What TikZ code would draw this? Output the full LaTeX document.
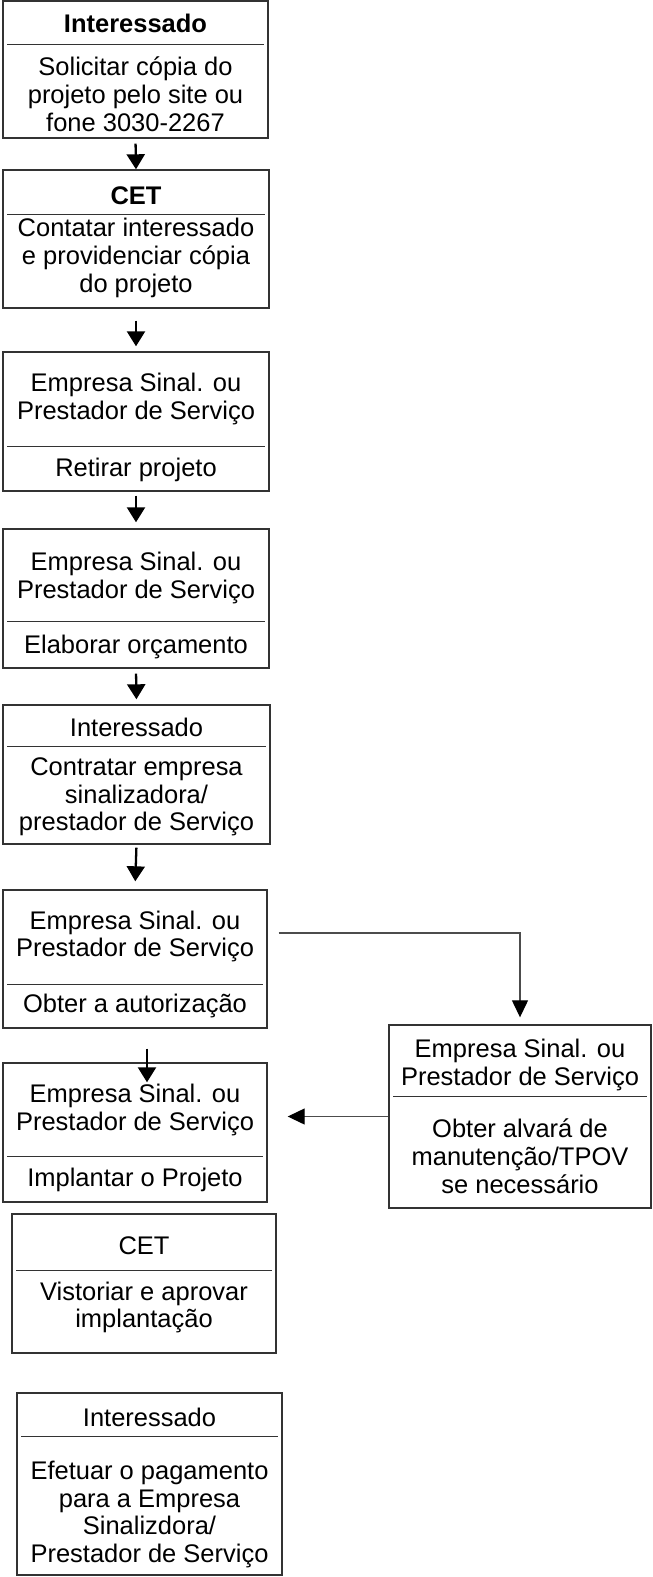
\documentclass[tikz,border=0pt]{standalone}
\usepackage{fontspec}
\setmainfont{Liberation Sans}
\usetikzlibrary{arrows.meta}

\begin{document}
\begin{tikzpicture}[
	card/.style={draw=black!80, line width=0.8pt, inner sep=0pt},
	divider/.style={draw=black!80, line width=0.7pt},
	txt/.style={align=center, inner sep=0pt, font=\fontsize{14.5}{15.8}\selectfont},
	arr/.style={line width=1.3pt, -{Triangle[length=0.3cm, width=0.36cm]}},
	sidearr/.style={draw=black!70, line width=0.7pt, -{Triangle[length=0.34cm, width=0.32cm, color=black]}}]
	\useasboundingbox (0,0) rectangle (13.06,-31.54);
	
	%draw the boxes
	\node[card, minimum width=5.30cm, minimum height=2.74cm] (b1) at (2.71,-1.39) {};
	\node[card, minimum width=5.32cm, minimum height=2.76cm] (b2) at (2.72,-4.78) {};
	\node[card, minimum width=5.32cm, minimum height=2.78cm] (b3) at (2.72,-8.43) {};
	\node[card, minimum width=5.32cm, minimum height=2.78cm] (b4) at (2.72,-11.97) {};
	\node[card, minimum width=5.34cm, minimum height=2.78cm] (b5) at (2.73,-15.49) {};
	\node[card, minimum width=5.28cm, minimum height=2.76cm] (b6) at (2.70,-19.18) {};
	\node[card, minimum width=5.24cm, minimum height=3.66cm] (bR) at (10.40,-22.33) {};
	\node[card, minimum width=5.28cm, minimum height=2.78cm] (b7) at (2.70,-22.65) {};
	\node[card, minimum width=5.28cm, minimum height=2.78cm] (b8) at (2.88,-25.67) {};
	\node[card, minimum width=5.30cm, minimum height=3.64cm] (b9) at (2.99,-29.68) {};
	
	%lines between who and what
	\foreach \b / \s in {b1/0.88,b2/0.90,b3/1.90,b4/1.86,b5/0.84,b6/1.90,bR/1.44,b7/1.88,b8/1.14,b9/0.88}
	\draw[divider] ([xshift=1mm,yshift=-\s cm]\b.north west) -- ([xshift=-1mm,yshift=-\s cm]\b.north east);
	
	%box texts
	\node[txt] (b1t) at (2.71,-0.46) {\bfseries Interessado};
	\node[txt] (b1b) at (2.71,-1.89) {Solicitar cópia do\\projeto pelo site ou\\fone 3030-2267};
	\node[txt] (b2t) at (2.72,-3.92) {\bfseries CET};
	\node[txt] (b2b) at (2.72,-5.16) {Contatar interessado\\e providenciar cópia\\do projeto};
	\node[txt] (b3t) at (2.72,-7.98) {Empresa Sinal. ou\\Prestador de Serviço};
	\node[txt] (b3b) at (2.72,-9.40) {Retirar projeto};
	\node[txt] (b4t) at (2.72,-11.56) {Empresa Sinal. ou\\Prestador de Serviço};
	\node[txt] (b4b) at (2.72,-12.94) {Elaborar orçamento};
	\node[txt] (b5t) at (2.73,-14.55) {Interessado};
	\node[txt] (b5b) at (2.73,-15.94) {Contratar empresa\\sinalizadora/\\prestador de Serviço};
	\node[txt] (b6t) at (2.70,-18.73) {Empresa Sinal. ou\\Prestador de Serviço};
	\node[txt] (b6b) at (2.70,-20.12) {Obter a autorização};
	\node[txt] (bRt) at (10.40,-21.30) {Empresa Sinal. ou\\Prestador de Serviço};
	\node[txt] (bRb) at (10.40,-23.12) {Obter alvará de\\manutenção/TPOV\\se necessário};
	\node[txt] (b7t) at (2.70,-22.20) {Empresa Sinal. ou\\Prestador de Serviço};
	\node[txt] (b7b) at (2.70,-23.60) {Implantar o Projeto};
	\node[txt] (b8t) at (2.88,-24.92) {CET};
	\node[txt] (b8b) at (2.88,-26.15) {Vistoriar e aprovar\\implantação};
	\node[txt] (b9t) at (2.99,-28.34) {Interessado};
	\node[txt] (b9b) at (2.99,-30.29) {Efetuar o pagamento\\para a Empresa\\Sinalizdora/\\Prestador de Serviço};
	
	%arrows down the left column
	\foreach \a / \b / \s / \e in {b1/b2/1mm/0mm,b2/b3/2.4mm/1mm,b3/b4/0.8mm/1.2mm,b4/b5/1mm/1mm,b5/b6/0.6mm/1.6mm}
	\draw[arr, shorten <=\s, shorten >=\e] (\a.south) -- (\b.north);
	
	%side branch
	\draw[sidearr, shorten >=1.4mm] ([xshift=2.2mm,yshift=5.2mm]b6.east) -| (bR.north);
	\draw[sidearr, shorten >=4mm] (bR.west) -- (bR.west -| b7.east);
	\draw[arr] ([xshift=2.4mm,yshift=-4mm]b6.south) -- ([xshift=2.4mm,yshift=-4mm]b7.north);
\end{tikzpicture}
\end{document}
